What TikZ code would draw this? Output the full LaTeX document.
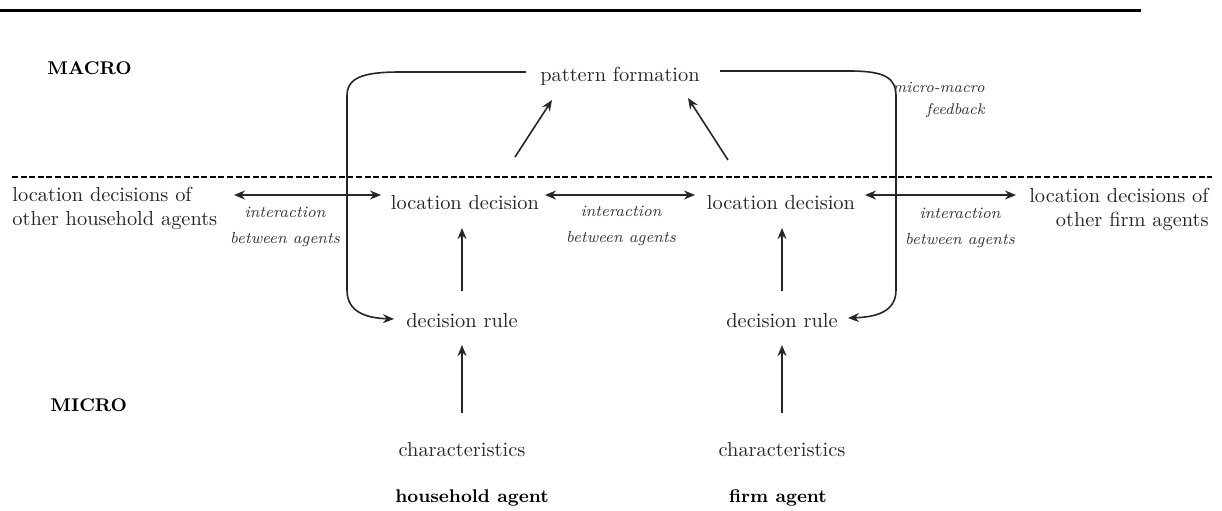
\documentclass[tikz,border=0pt]{standalone}
\usetikzlibrary{arrows.meta,calc}
\begin{document}
\begin{tikzpicture}[x=0.5pt,y=-0.5pt,
  txt/.style={inner sep=0pt, text=black!85, font=\fontsize{10.2}{12}\selectfont},
  lbl/.style={inner sep=0pt, text=black!80, align=center, font=\fontsize{8}{13}\selectfont\itshape},
  bold/.style={inner sep=0pt, text=black, font=\fontsize{9.2}{11}\selectfont\bfseries},
  conn/.style={line width=0.8pt, draw=black!85},
  arr/.style={conn, -{Stealth[length=5.5pt,width=4.5pt]}},
  dbl/.style={conn, {Stealth[length=5.5pt,width=4.5pt]}-{Stealth[length=5.5pt,width=4.5pt]}}]
\useasboundingbox (0,0) rectangle (1222,510);

% heading rule and macro/micro separator
\draw[line width=1.5pt] (0,10) -- (1141,10);
\draw[line width=1.1pt, dash pattern=on 3pt off 1.3pt] (12,177) -- (1212,177);

% level labels
\node[bold, anchor=west] (macro) at (47,68) {MACRO};
\node[bold, anchor=west] (micro) at (50,405) {MICRO};

% macro level
\node[txt] (pf) at (620,76) {pattern formation};
\node[lbl, align=right, anchor=east, font=\fontsize{7.8}{11}\selectfont\itshape] (fb) at (985,100) {micro-macro\\feedback};

% location decisions
\node[txt] (ldh) at (465,203) {location decision};
\node[txt] (ldf) at (781,203) {location decision};
\node[txt, align=left, anchor=west] (oh) at (12,208) {location decisions of\\other household agents};
\node[txt, align=right, anchor=east] (of) at (1209,209) {location decisions of\\other firm agents};

% interaction labels
\node[lbl] (ia1) at (285,227) {interaction\\between agents};
\node[lbl] (ia2) at (621,226) {interaction\\between agents};
\node[lbl] (ia3) at (960,228) {interaction\\between agents};

% agent internals
\node[txt] (drh) at (462,321) {decision rule};
\node[txt] (drf) at (782,321) {decision rule};
\node[txt] (chh) at (462,450) {characteristics};
\node[txt] (chf) at (782,450) {characteristics};
\node[bold] (hha) at (472,498) {household agent};
\node[bold] (fa) at (778,498) {firm agent};

% upward causation
\draw[arr] ($(chh)+(0,-37)$) -- ($(drh)+(0,24)$);
\draw[arr] ($(chf)+(0,-37)$) -- ($(drf)+(0,24)$);
\draw[arr] ($(drh)+(0,-30)$) -- ($(ldh)+(-3,25)$);
\draw[arr] ($(drf)+(0,-30)$) -- ($(ldf)+(1,25)$);
\draw[arr] ($(ldh)+(50,-46)$) -- ($(pf)+(-68,24)$);
\draw[arr] ($(ldf)+(-53,-43)$) -- ($(pf)+(68,22)$);

% interactions between agents
\draw[dbl] ($(oh.west)+(222,-13)$) -- ($(ldh)+(-84,-8)$);
\draw[dbl] ($(ldh)+(80,-8)$) -- ($(ldf)+(-86,-8)$);
\draw[dbl] ($(ldf)+(84,-8)$) -- ($(of.east)+(-193,-14)$);

% micro-macro feedback loops
\draw[arr] ($(pf.west)+(-14,-4)$) -- (400,72)
  .. controls (362,72) and (347,78) .. (347,96) -- (347,290)
  .. controls (347,312) and (366,318) .. ($(drh.west)+(-12,-2)$);
\draw[arr] ($(pf.east)+(20,-5)$) -- (850,71)
  .. controls (885,71) and (896,78) .. (896,96) -- (896,290)
  .. controls (896,312) and (876,317) .. ($(drf.east)+(10,-3)$);
\end{tikzpicture}
\end{document}
